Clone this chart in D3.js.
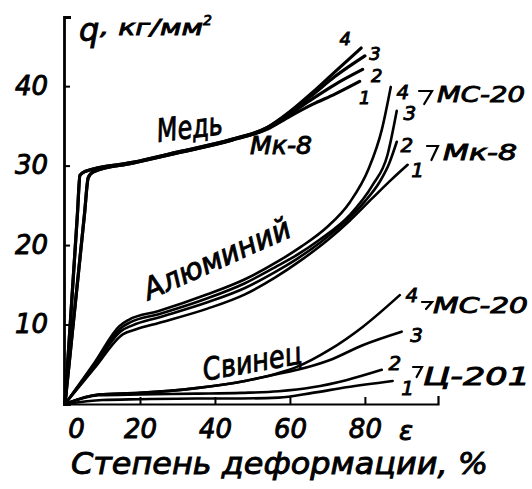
<!DOCTYPE html>
<html>
<head>
<meta charset="utf-8">
<script src="https://cdn.jsdelivr.net/npm/d3@7"></script>
<style>
  html, body { margin: 0; padding: 0; background: #fff; }
  svg { display: block; }
  text { font-family: "DejaVu Sans", sans-serif; font-style: oblique; fill: #000; stroke: #000; stroke-width: 0.9px; }
</style>
</head>
<body>
<div id="chart"></div>
<script>
// axis ticks
const strainTicks = [0, 20, 40, 60, 80];
const stressTicks = [10, 20, 30, 40];

// copper (Медь), [strain %, stress kg/mm2]
const copper1 = [[0,0],[2,9.2],[5.2,23.9],[6.2,28.5],[7.5,29.2],[18,30.3],[30,31.6],[44.5,33.2],[54,34.6],[60,36.2],[66,37.7],[72,39.0],[78.6,40.6]];
const copper2 = [[0,0],[2,9.2],[5.2,23.9],[6.2,28.5],[7.5,29.2],[18,30.3],[30,31.6],[44.5,33.2],[54,34.7],[60,36.5],[66,38.4],[72,40.2],[79.4,42.1]];
const copper3 = [[0,0],[1.5,10.8],[3.3,23.8],[4,28.8],[5.5,29.3],[18,30.4],[30,31.7],[44.5,33.3],[54,34.8],[60,36.7],[66,38.9],[72,41.2],[80,43.8]];
const copper4 = [[0,0],[1.5,10.8],[3.3,23.8],[4,28.8],[5.5,29.3],[18,30.4],[30,31.7],[44.5,33.3],[54,34.8],[60,36.8],[66,39.2],[72,41.8],[79,44.8]];

// aluminium (Алюминий)
const al1 = [[0,0],[8,4.6],[15.5,8.8],[19,9.4],[25,10.2],[38,12.0],[48,13.8],[56,15.9],[63,18.1],[70,20.6],[76,23.1],[82,25.9],[87,28.2],[91.4,30.1]];
const al2 = [[0,0],[8,4.9],[15,9.2],[18,9.9],[25,10.9],[38,12.8],[48,14.6],[56,16.6],[62,18.3],[68,20.3],[74,22.6],[80,25.5],[84,28.0],[86.5,30.3],[88.5,33.0]];
const al3 = [[0,0],[8,5.1],[15,9.6],[17.5,10.3],[25,11.3],[38,13.3],[48,15.2],[56,17.2],[61,18.5],[68,20.7],[76,23.8],[82,27.5],[86,31.3],[88.5,36.9]];
const al4 = [[0,0],[8,5.3],[14.5,9.8],[17,10.6],[25,11.7],[38,13.8],[48,15.7],[57,18.0],[63,19.8],[70,22.3],[76,25.4],[81,29.6],[84.5,34.5],[86.9,39.9]];

// lead (Свинец)
const lead1 = [[0,0],[10,0.5],[20,0.6],[35,0.7],[47,0.7],[57,0.8],[66,1.4],[75,2.1],[87.4,2.9]];
const lead2 = [[0,0],[9,1.1],[20,1.2],[35,1.3],[47,1.4],[57,1.6],[66,2.1],[75,3.0],[84.5,4.3]];
const lead3 = [[0,0],[9,1.2],[20,1.4],[35,2.0],[48,2.9],[57,3.8],[62,4.3],[70.5,5.5],[79.4,7.4],[89.8,9.1]];
const lead4 = [[0,0],[9,1.2],[20,1.4],[35,2.0],[48,2.9],[57,3.9],[62,4.7],[70.5,6.8],[79.4,9.7],[89.3,13.7]];

const curveNumbers = ["1", "2", "3", "4"];

const width = 532;
const height = 489;

const svg = d3.select("#chart")
  .append("svg")
  .attr("width", width)
  .attr("height", height);

const x = d3.scaleLinear().domain([0, 99.5]).range([65, 438]);
const y = d3.scaleLinear().domain([0, 48.7]).range([404, 17]);

// x axis, ticks point up into the plot
const xAxis = d3.axisBottom(x)
  .tickValues(strainTicks)
  .tickSizeInner(-7)
  .tickSizeOuter(-8)
  .tickPadding(16)
  .tickFormat(d3.format("d"));

const gx = svg.append("g")
  .attr("transform", `translate(0,${y(0)})`)
  .call(xAxis)
  .attr("font-family", null)
  .attr("font-size", null);
gx.select(".domain").attr("stroke-width", 2.2);
gx.selectAll(".tick line").attr("stroke-width", 2);
gx.selectAll(".tick text")
  .style("font-size", "26px")
  .attr("dx", d => (d === 0 ? 11 : 0));

// y axis, ticks point right
const yAxis = d3.axisLeft(y)
  .tickValues(stressTicks)
  .tickSizeInner(-6)
  .tickSizeOuter(-7)
  .tickPadding(16);

const gy = svg.append("g")
  .attr("transform", `translate(${x(0) - 1},0)`)
  .call(yAxis)
  .attr("font-family", null)
  .attr("font-size", null);
gy.select(".domain").attr("stroke-width", 2.8);
gy.selectAll(".tick line").attr("stroke-width", 2);
gy.selectAll(".tick text").style("font-size", "26px");

// curves
const line = d3.line()
  .x(d => x(d[0]))
  .y(d => y(d[1]))
  .curve(d3.curveMonotoneX);

const metals = [
  { curves: [copper1, copper2, copper3, copper4], stroke: 3.2, numSize: 18, numOffset: [[5, 16], [14, 6], [10, -2], [-16, -9]] },
  { curves: [al1, al2, al3, al4], stroke: 2.6, numSize: 20, numOffset: [[10, 5], [10, 3], [13, 2], [12, 5]] },
  { curves: [lead1, lead2, lead3, lead4], stroke: 2.6, numSize: 20, numOffset: [[15, 7], [13, -7], [15, 3], [12, 0]] }
];

metals.forEach(m => {
  svg.append("g")
    .selectAll("path")
    .data(m.curves)
    .enter()
    .append("path")
    .attr("d", line)
    .attr("fill", "none")
    .attr("stroke", "#000")
    .attr("stroke-width", m.stroke)
    .attr("stroke-linecap", "round")
    .attr("stroke-linejoin", "round");

  svg.append("g")
    .selectAll("text")
    .data(m.curves)
    .enter()
    .append("text")
    .attr("x", (d, i) => x(d[d.length - 1][0]) + m.numOffset[i][0])
    .attr("y", (d, i) => y(d[d.length - 1][1]) + m.numOffset[i][1])
    .attr("text-anchor", "middle")
    .attr("dominant-baseline", "central")
    .style("font-size", m.numSize + "px")
    .text((d, i) => curveNumbers[i]);
});

// labels
function label(txt, px, py, size, len, angle) {
  const t = svg.append("text")
    .attr("x", px)
    .attr("y", py)
    .style("font-size", size + "px")
    .text(txt);
  if (len) t.attr("textLength", len).attr("lengthAdjust", "spacingAndGlyphs");
  if (angle) t.attr("text-anchor", "middle").attr("transform", `rotate(${angle},${px},${py})`);
  return t;
}

// the little "⁊" brace that groups two curves
function brace(px, py, w, h) {
  svg.append("path")
    .attr("d", `M${px},${py} h${w} l${-w * 0.6},${h}`)
    .attr("fill", "none")
    .attr("stroke", "#000")
    .attr("stroke-width", 2.2)
    .attr("stroke-linecap", "round");
}

// axis titles
label("q", 79, 41, 32);
label(", кг/мм", 100, 35, 22, 103);
label("2", 203, 25, 14);
label("Степень деформации, %", 71, 474, 30, 417);
svg.append("text")
  .attr("x", x(91))
  .attr("y", 431)
  .attr("text-anchor", "middle")
  .attr("dominant-baseline", "central")
  .style("font-size", "26px")
  .text("ε");

// metal names
label("Медь", 191, 138, 32, 66, -7);
label("Мк-8", 250, 154, 24, 62);
label("Алюминий", 221, 268, 30, 158, -24);
label("Свинец", 254, 372, 31, 100, -10);

// alloy groups
brace(419, 91, 13, 13);
label("МС-20", 437, 102, 22, 88);
brace(427, 146, 11, 14);
label("Мк-8", 443, 160, 21, 74);
brace(422, 302, 10, 7);
label("МС-20", 433, 313, 22, 95);
brace(413, 367, 9, 10);
label("Ц-201", 423, 385, 24, 107);
</script>
</body>
</html>
